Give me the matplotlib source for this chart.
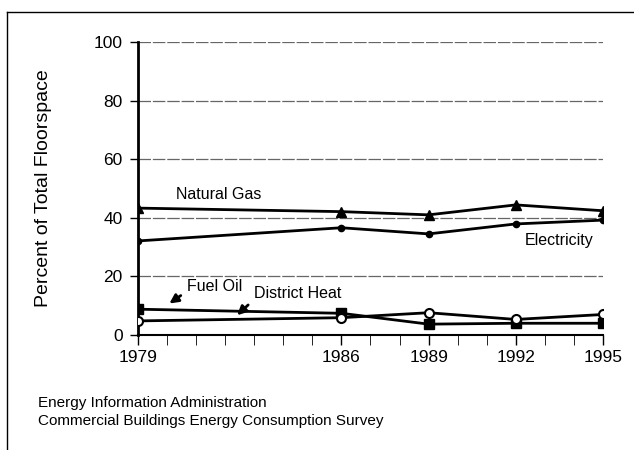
import matplotlib.pyplot as plt
from matplotlib.lines import Line2D
from matplotlib.ticker import MultipleLocator

plt.rcParams['font.family'] = ['Liberation Sans', 'DejaVu Sans']

years = [1979, 1986, 1989, 1992, 1995]
natural_gas = [43.3, 42.1, 41.0, 44.4, 42.4]
electricity = [32.1, 36.6, 34.5, 37.9, 39.2]
fuel_oil = [8.8, 7.4, 3.7, 4.0, 4.0]
district_heat = [4.8, 5.9, 7.6, 5.3, 7.0]

fig = plt.figure(figsize=(6.34, 4.5), dpi=100)
ax = fig.add_axes([0.2177, 0.2556, 0.951 - 0.2177, 0.9067 - 0.2556])

ax.plot(years, natural_gas, color='black', lw=2, marker='^', ms=7, zorder=3)
ax.plot(years, electricity, color='black', lw=2, marker='o', ms=4.5, zorder=3)
ax.plot(years, fuel_oil, color='black', lw=2, marker='s', ms=6.5, zorder=3)
ax.plot(years, district_heat, color='black', lw=2, marker='o', ms=6.5,
        mfc='white', mew=1.5, zorder=3)

ax.set_xlim(1979, 1995)
ax.set_ylim(0, 100)
ax.set_xticks(years)
ax.xaxis.set_minor_locator(MultipleLocator(1))
ax.set_yticks([0, 20, 40, 60, 80, 100])
ax.tick_params(axis='both', labelsize=12.5, width=1, length=6, direction='out')
ax.tick_params(axis='x', which='both', length=7)
ax.tick_params(axis='x', pad=4)
ax.tick_params(axis='y', pad=5)

ax.yaxis.grid(True, color='#666666', lw=0.9, linestyle=(0, (10, 1.5)))
ax.set_axisbelow(True)
for s in ['top', 'right']:
    ax.spines[s].set_visible(False)
ax.spines['left'].set_linewidth(2)
ax.spines['bottom'].set_linewidth(1.5)

ax.set_ylabel('Percent of Total Floorspace', fontsize=14, labelpad=30)

ax.text(1980.3, 47.8, 'Natural Gas', fontsize=11.5, va='center')
ax.text(1992.3, 32.4, 'Electricity', fontsize=11.5, va='center')
ax.text(1980.7, 16.4, 'Fuel Oil', fontsize=11.5, va='center')
ax.text(1983.0, 14.3, 'District Heat', fontsize=11.5, va='center')
ax.annotate('', xy=(1980.0, 10.2), xytext=(1980.55, 14.0),
            arrowprops=dict(arrowstyle='-|>', color='black', lw=2, mutation_scale=13))
ax.annotate('', xy=(1982.34, 6.1), xytext=(1982.86, 10.9),
            arrowprops=dict(arrowstyle='-|>', color='black', lw=2, mutation_scale=13))

fig.text(38 / 634, 1 - 403 / 450, 'Energy Information Administration',
         fontsize=11, va='center')
fig.text(38 / 634, 1 - 421 / 450, 'Commercial Buildings Energy Consumption Survey',
         fontsize=11, va='center')

# partial frame from the scan
fig.add_artist(Line2D([7 / 634, 1], [1 - 12 / 450, 1 - 12 / 450], color='black', lw=1))
fig.add_artist(Line2D([7 / 634, 7 / 634], [0, 1 - 12 / 450], color='black', lw=1))

fig.savefig('out.png', dpi=100)
